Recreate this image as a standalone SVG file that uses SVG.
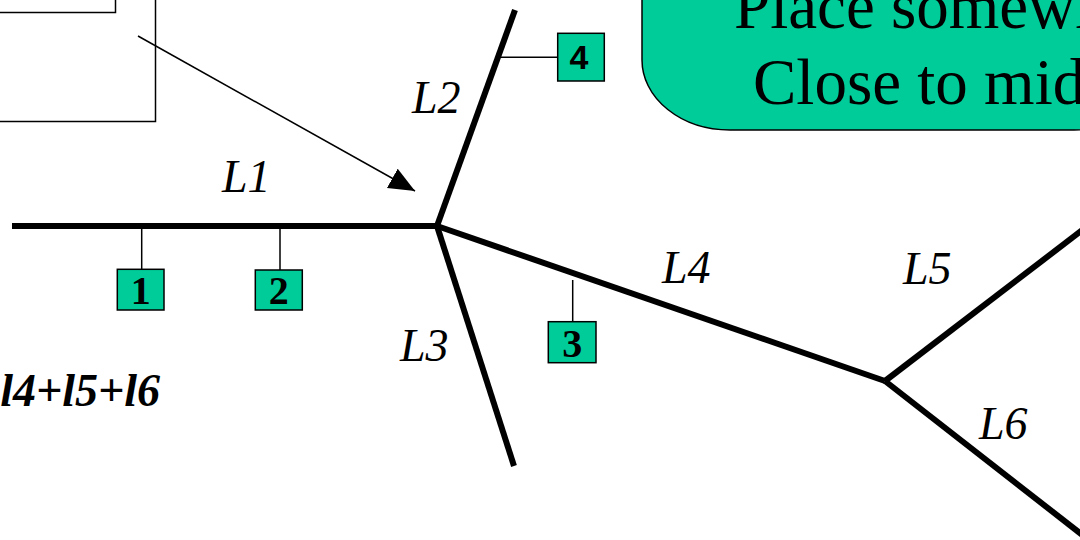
<svg xmlns="http://www.w3.org/2000/svg" width="1080" height="540" viewBox="0 0 1080 540">
  <style>
    .frame { fill: none; stroke: #000; stroke-width: 1.5; }
    .branch { stroke: #000; stroke-width: 6; stroke-linecap: butt; fill: none; }
    .stem { stroke: #000; stroke-width: 1.5; fill: none; }
    .tag { fill: #00CC99; stroke: #000; stroke-width: 1.5; }
    .num { font-family: "Liberation Serif", serif; font-weight: bold; font-size: 40px; text-anchor: middle; fill: #000; }
    .num-sans { font-family: "Liberation Sans", sans-serif; font-weight: bold; font-size: 34px; text-anchor: middle; fill: #000; }
    .lbl { font-family: "Liberation Serif", serif; font-style: italic; font-size: 46px; fill: #000; }
    .note { font-family: "Liberation Serif", serif; font-size: 65px; fill: #000; }
    .formula { font-family: "Liberation Serif", serif; font-style: italic; font-weight: bold; font-size: 46px; fill: #000; text-anchor: end; }
  </style>
  <defs>
    <marker id="head" markerUnits="userSpaceOnUse" markerWidth="30" markerHeight="24" refX="26" refY="11" orient="auto">
      <path d="M0,0 L26,11 L0,22 Z" fill="#000"/>
    </marker>
  </defs>

  <rect width="1080" height="540" fill="#fff"/>

  <!-- source boxes, top left -->
  <g id="outer-box">
    <rect class="frame" x="-20" y="-20" width="175.5" height="141.5"/>
  </g>
  <g id="inner-box">
    <rect class="frame" x="-20" y="-20" width="135.5" height="32.5"/>
  </g>

  <!-- callout -->
  <g id="callout">
    <rect x="642" y="-120" width="520" height="250" rx="88" ry="70" fill="#00CC99" stroke="#000" stroke-width="1.5"/>
    <text class="note" x="734" y="28">Place somewhere</text>
    <text class="note" x="753" y="104">Close to middle</text>
  </g>

  <!-- connectors: tree branches, drop lines and pointer -->
  <g id="connectors">
    <line class="branch" x1="12" y1="226" x2="437" y2="226"/>
    <line class="branch" x1="437" y1="226" x2="515" y2="10"/>
    <line class="branch" x1="437" y1="226" x2="514" y2="466"/>
    <line class="branch" x1="437" y1="226" x2="885" y2="381"/>
    <line class="branch" x1="885" y1="381" x2="1085" y2="228"/>
    <line class="branch" x1="885" y1="381" x2="1085" y2="537"/>
    <line class="stem" x1="141.7" y1="229" x2="141.7" y2="269"/>
    <line class="stem" x1="280" y1="229" x2="280" y2="270"/>
    <line class="stem" x1="572.7" y1="280" x2="572.7" y2="322"/>
    <line class="stem" x1="500" y1="57.3" x2="558" y2="57.3"/>
    <line class="stem" x1="138" y1="36" x2="415" y2="191" marker-end="url(#head)"/>
  </g>

  <!-- numbered tags -->
  <g id="tag-1">
    <rect class="tag" x="117.3" y="269.3" width="46.7" height="40.7"/>
    <text class="num" x="140.7" y="304">1</text>
  </g>
  <g id="tag-2">
    <rect class="tag" x="255.3" y="270" width="47" height="40"/>
    <text class="num" x="278.8" y="304">2</text>
  </g>
  <g id="tag-3">
    <rect class="tag" x="548.3" y="321.7" width="47.7" height="41"/>
    <text class="num" x="572.2" y="357">3</text>
  </g>
  <g id="tag-4">
    <rect class="tag" x="557.7" y="33.3" width="46.6" height="47.7"/>
    <text class="num-sans" x="579" y="69">4</text>
  </g>

  <!-- branch labels -->
  <g id="labels">
    <text class="lbl" x="222" y="192">L1</text>
    <text class="lbl" x="412" y="113">L2</text>
    <text class="lbl" x="400" y="361">L3</text>
    <text class="lbl" x="662" y="283">L4</text>
    <text class="lbl" x="903" y="284">L5</text>
    <text class="lbl" x="979" y="439">L6</text>
  </g>

  <g id="formula">
    <text class="formula" x="160" y="406">l4+l5+l6</text>
  </g>
</svg>
